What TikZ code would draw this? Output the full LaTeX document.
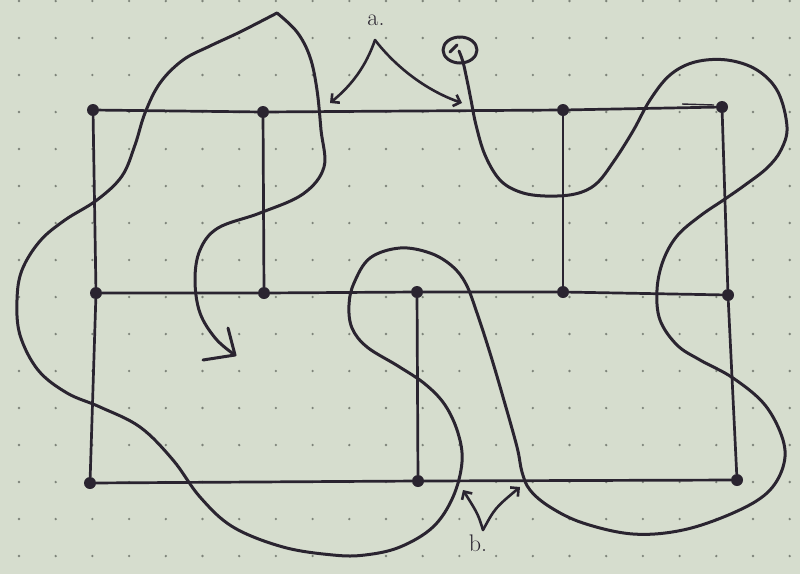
\documentclass[tikz,border=0pt]{standalone}
\usetikzlibrary{arrows.meta}
\definecolor{paper}{RGB}{214,221,206}
\definecolor{ink}{RGB}{42,36,48}
\definecolor{griddot}{RGB}{125,131,121}
\tikzset{
  pin/.style={circle,fill=ink,inner sep=0pt,minimum size=12pt},
  wire/.style={draw=ink,line width=2.7pt},
  loopline/.style={draw=ink,line width=3pt,line cap=round,line join=round},
  pointer/.style={draw=ink,line width=2.6pt,line cap=round,-{Straight Barb[length=6pt,width=12pt,line width=2.6pt]}},
  tag/.style={text=ink,font=\fontsize{24}{24}\selectfont}
}
\begin{document}
\begin{tikzpicture}[x=1pt,y=-1pt]
\fill[paper] (0,0) rectangle (800,574);
\useasboundingbox (0,0) rectangle (800,574);
% dotted paper
\foreach \i in {0,...,21}{
  \foreach \j in {0,...,15}{
    \fill[griddot] ({19+36.7*\i},{1+37*\j}) circle (1.3pt);
  }
}
% grid nodes
\node[pin] (t1) at (93,110) {};
\node[pin] (t2) at (263,112) {};
\node[pin] (t3) at (563,110) {};
\node[pin] (t4) at (722,107) {};
\node[pin] (m1) at (96,293) {};
\node[pin] (m2) at (264,293) {};
\node[pin] (m3) at (417,292) {};
\node[pin] (m4) at (563,292) {};
\node[pin] (m5) at (728,295) {};
\node[pin] (b1) at (90,483) {};
\node[pin] (b2) at (418,481) {};
\node[pin] (b3) at (737,480) {};
% grid lines
\draw[wire] (t1) -- (t2) -- (t3) -- (t4);
\draw[wire] (m1) -- (m2) -- (m3) -- (m4) -- (m5);
\draw[wire] (b1) -- (b2) -- (b3);
\draw[wire] (t1) -- (m1) -- (b1);
\draw[wire] (t2) -- (m2);
\draw[wire] (t3) -- (m4);
\draw[wire] (m3) -- (b2);
\draw[wire] (t4) -- (m5) -- (b3);
\draw[ink,line width=1.4pt] (682,104) -- (714,105);
% the small loop at the start
\draw[loopline] (460,50) ellipse (17pt and 13pt);
\draw[loopline] (450,52) -- (457,45);
% winding line
\draw[loopline] plot[smooth,tension=0.6] coordinates {
 (459,51) (463,62) (467,80) (471,100) (476,125) (485,155) (500,180) (520,192)
 (545,196) (575,194) (596,184) (614,161) (633,131) (650,100) (670,75) (695,62)
 (727,60) (757,70) (778,92) (787,127) (781,150) (767,168) (745,185) (725,199)
 (700,216) (677,236) (663,261) (657,290) (660,320) (677,345) (700,360) (733,378)
 (765,405) (783,440) (783,467) (767,493) (733,513) (683,530) (633,534) (583,523)
 (550,507) (530,490) (522,472) (517,447) (503,397) (490,353) (477,313) (466,284)
 (452,266) (430,253) (400,248) (370,258) (354,283) (349,305) (352,328) (367,347)
 (398,366) (425,384) (445,405) (458,433) (462,462) (453,497) (433,527) (400,547)
 (365,555) (333,555) (283,547) (233,527) (200,497) (173,460) (140,427) (100,407)
 (67,393) (38,370) (20,335) (17,300) (22,270) (40,241) (65,220) (97,200)
 (122,176) (135,145) (145,113) (160,83) (183,60) (210,46) (240,32) (277,13)};
\draw[loopline] plot[smooth,tension=0.6] coordinates {
 (277,13) (297,32) (310,57) (317,90) (321,130) (324,167) (303,194) (260,213)
 (218,228) (200,250) (195,280) (200,313) (216,339) (235,355)};
\coordinate (tip) at (235,355);
\coordinate (barbA) at (228,328);
\coordinate (barbB) at (203,360);
\draw[loopline] (barbA) -- (tip) -- (barbB);
% labels and pointers
\node[tag] (la) at (376,20) {a.};
\node[tag] (lb) at (478,543) {b.};
\coordinate (aL) at (330,103);
\coordinate (aR) at (462,103);
\coordinate (bL) at (463,490);
\coordinate (bR) at (520,487);
\coordinate (aS) at (375,40);
\coordinate (bS) at (483,530);
\draw[pointer] (aS) .. controls (366,66) and (352,85) .. (aL);
\draw[pointer] (aS) .. controls (395,66) and (425,90) .. (aR);
\draw[pointer] (bS) .. controls (478,514) .. (bL);
\draw[pointer] (bS) .. controls (495,508) .. (bR);
\end{tikzpicture}
\end{document}
